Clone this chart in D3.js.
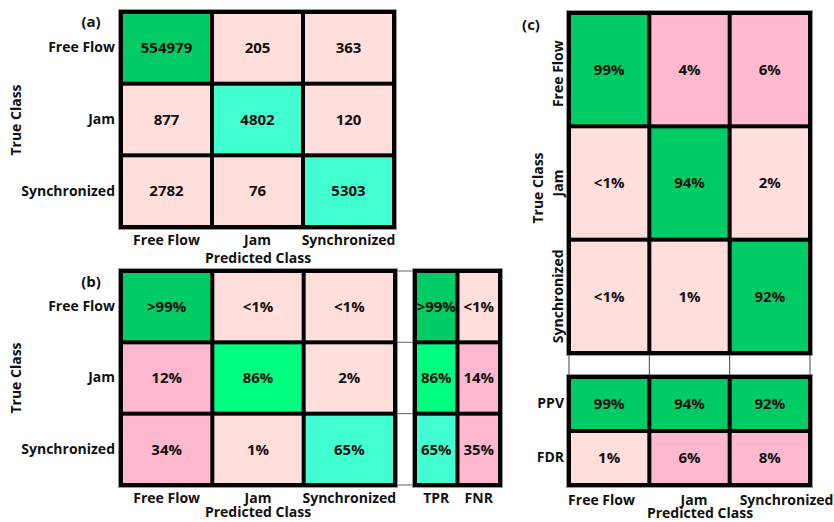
<!DOCTYPE html>
<html>
<head>
<meta charset="utf-8">
<script src="https://cdn.jsdelivr.net/npm/d3@7"></script>
<style>
  body { margin: 0; background: #fff; }
  svg { display: block; }
  text { font-family: "Open Sans", "Noto Sans", sans-serif; font-weight: 700; fill: #111; }
</style>
</head>
<body>
<svg width="834" height="522"></svg>
<script>
// классы
const classes = ["Free Flow", "Jam", "Synchronized"];
// (a) количество
const countMatrix = [[554979, 205, 363], [877, 4802, 120], [2782, 76, 5303]];
// (b) доли по строкам, %
const recallMatrix = [[99.9, 0.04, 0.07], [12, 86, 2], [34, 1, 65]];
const rateLabels = ["TPR", "FNR"];
const rateValues = [[99.9, 0.1], [86, 14], [65, 35]];
// (c) доли по столбцам, %
const precisionMatrix = [[99, 4, 6], [0.2, 94, 2], [0.5, 1, 92]];
const predLabels = ["PPV", "FDR"];
const predValues = [[99, 94, 92], [1, 6, 8]];

const pale = "#ffdedc", pink = "#ffb8cf", aqua = "#41ffd0", spring = "#00ff80", dgreen = "#00cc66";
const pctColor = d3.scaleThreshold().domain([3, 50, 80, 90]).range([pale, pink, aqua, spring, dgreen]);
const countColor = d3.scaleThreshold().domain([3000, 100000]).range([pale, aqua, dgreen]);
const fmtPct = v => v > 99 ? ">99%" : (v < 1 ? "<1%" : Math.round(v) + "%");

const svg = d3.select("svg");

// рисуем блок ячеек; возвращает шкалы
function drawGrid(rows, cols, box, value, color, fmt) {
    const sx = d3.scaleBand().domain(cols).range([box.x0 + 2, box.x1 - 2]);
    const sy = d3.scaleBand().domain(rows).range([box.y0 + 2, box.y1 - 2]);
    const g = svg.append("g");
    g.append("rect")
        .attr("x", box.x0 - 0.5).attr("y", box.y0 - 0.5)
        .attr("width", box.x1 - box.x0 + 1).attr("height", box.y1 - box.y0 + 1)
        .attr("fill", "#000").attr("stroke", "#999").attr("stroke-width", 1);
    const cells = [];
    rows.forEach((r, i) => cols.forEach((c, j) => cells.push({r, c, v: value(i, j)})));
    g.selectAll(".cell").data(cells).enter().append("rect")
        .attr("x", d => sx(d.c) + 2).attr("y", d => sy(d.r) + 2)
        .attr("width", sx.bandwidth() - 4).attr("height", sy.bandwidth() - 4)
        .attr("fill", d => color(d.v));
    g.selectAll(".val").data(cells).enter().append("text")
        .attr("x", d => sx(d.c) + sx.bandwidth() / 2)
        .attr("y", d => sy(d.r) + sy.bandwidth() / 2)
        .attr("dy", "0.35em")
        .attr("text-anchor", "middle")
        .style("font-size", "15px")
        .text(d => fmt(d.v));
    return [sx, sy];
}

function leftLabels(sy, x, pad) {
    svg.append("g").attr("transform", `translate(${x},0)`)
        .call(d3.axisLeft(sy).tickSize(0).tickPadding(pad))
        .call(a => a.select(".domain").remove())
        .selectAll("text").style("font-size", "14px").style("font-family", null);
}

function bottomLabels(sx, y) {
    svg.append("g").attr("transform", `translate(0,${y})`)
        .call(d3.axisBottom(sx).tickSize(0))
        .call(a => a.select(".domain").remove())
        .selectAll("text").attr("y", 0).attr("dy", 0)
        .style("font-size", "14px").style("font-family", null);
}

function label(txt, x, y, rot, size) {
    svg.append("text").attr("text-anchor", "middle")
        .attr("transform", `translate(${x},${y}) rotate(${rot || 0})`)
        .style("font-size", (size || 14) + "px").text(txt);
}

// (a)
const boxA = {x0: 119, x1: 396, y0: 10, y1: 229};
const [axA, ayA] = drawGrid(classes, classes, boxA, (i, j) => countMatrix[i][j], countColor, d3.format("d"));
leftLabels(ayA, boxA.x0, 4);
bottomLabels(axA, 245);
label("Predicted Class", 258, 263);
label("True Class", 21, 120, -90);
label("(a)", 91, 27, 0, 15);

// (b)
const boxB = {x0: 119, x1: 397, y0: 269, y1: 487};
const boxT = {x0: 413, x1: 502, y0: 269, y1: 487};
const [axB, ayB] = drawGrid(classes, classes, boxB, (i, j) => recallMatrix[i][j], pctColor, fmtPct);
const [axT] = drawGrid(classes, rateLabels, boxT, (i, j) => rateValues[i][j], pctColor, fmtPct);
// соединительные линии
const edgesB = [boxB.y0 + 2, ...classes.slice(1).map(c => ayB(c)), boxB.y1 - 2];
svg.append("g").selectAll("line").data(edgesB).enter().append("line")
    .attr("x1", boxB.x1).attr("x2", boxT.x0).attr("y1", d => d).attr("y2", d => d)
    .attr("stroke", "#666").attr("stroke-width", 1);
leftLabels(ayB, boxB.x0, 4);
bottomLabels(axB, 503);
bottomLabels(axT, 503);
label("Predicted Class", 258, 517);
label("True Class", 21, 378, -90);
label("(b)", 91, 287, 0, 15);

// (c)
const boxC = {x0: 567, x1: 812, y0: 11, y1: 355};
const boxP = {x0: 567, x1: 812, y0: 375, y1: 487};
const [axC, ayC] = drawGrid(classes, classes, boxC, (i, j) => precisionMatrix[i][j], pctColor, fmtPct);
const [, ayP] = drawGrid(predLabels, classes, boxP, (i, j) => predValues[i][j], pctColor, fmtPct);
const edgesC = [boxC.x0 + 2, ...classes.slice(1).map(c => axC(c)), boxC.x1 - 2];
svg.append("g").selectAll("line").data(edgesC).enter().append("line")
    .attr("x1", d => d).attr("x2", d => d).attr("y1", boxC.y1).attr("y2", boxP.y0)
    .attr("stroke", "#444").attr("stroke-width", 1);
// подписи строк повернуты
svg.append("g").selectAll("text").data(classes).enter().append("text")
    .attr("text-anchor", "middle")
    .attr("transform", d => `translate(${boxC.x0 - 4},${ayC(d) + ayC.bandwidth() / 2 + (d === classes[0] ? 4 : 0)}) rotate(-90)`)
    .style("font-size", "14px").text(d => d);
leftLabels(ayP, boxP.x0, 3);
// подписи столбцов (c) разнесены шире, чем столбцы
const labC = d3.scalePoint().domain(classes).range([601, 786]);
svg.append("g").attr("transform", "translate(0,505)")
    .call(d3.axisBottom(labC).tickSize(0))
    .call(a => a.select(".domain").remove())
    .selectAll("text").attr("y", 0).attr("dy", 0)
    .style("font-size", "14px").style("font-family", null);
label("Predicted Class", 700, 518);
label("True Class", 543, 188, -90);
label("(c)", 531, 30, 0, 15);
</script>
</body>
</html>
